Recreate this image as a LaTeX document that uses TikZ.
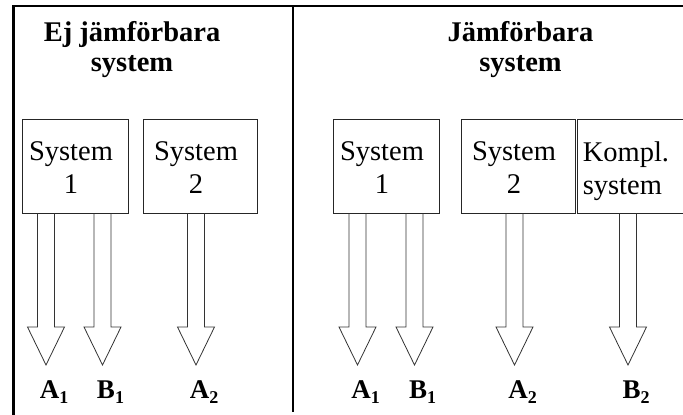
\documentclass[tikz,border=0pt]{standalone}
\usepackage{fontspec}
\setmainfont{Liberation Serif}
\usetikzlibrary{calc}

\tikzset{
  framerule/.style={line width=2.3pt, black},
  dividerrule/.style={line width=1.3pt, black},
  sysbox/.style={draw=black!85, line width=0.9pt, inner sep=0pt},
  boxtext/.style={inner sep=0pt, font=\fontsize{28.5}{33}\selectfont, align=center},
  titletext/.style={inner sep=0pt, font=\fontsize{28.5}{30}\selectfont\bfseries, align=center},
  outlab/.style={inner sep=0pt, anchor=base, font=\fontsize{27}{27}\selectfont\bfseries},
  hollow/.style={draw=black!80, line width=0.8pt, line join=miter},
}

% subscript index of an output label
\newcommand\lowidx[1]{\raisebox{-5pt}{\fontsize{18}{18}\selectfont #1}}

% hollow block arrow from #1 (top of shaft) to #2 (tip)
\newcommand\hollowarrow[2]{%
  \draw[hollow] let \p1=(#1), \p2=(#2) in
    (\x1-8.5pt,\y1) -- (\x1-8.5pt,\y2+38pt) -- (\x2-18.5pt,\y2+38pt) -- (\x2,\y2)
    -- (\x2+18.5pt,\y2+38pt) -- (\x1+8.5pt,\y2+38pt) -- (\x1+8.5pt,\y1);}

\begin{document}
\begin{tikzpicture}[x=1pt,y=-1pt]
\clip (0,0) rectangle (683,415);

% frame and divider
\draw[framerule] (12.3,6.3) -- (700,6.3);
\draw[framerule] (13.5,5.2) -- (13.5,420);
\draw[dividerrule] (293,6.3) -- (293,412);

% headings
\node[titletext] (tl) at (132,50) {Ej jämförbara\\system};
\node[titletext] (tr) at (520.5,50) {Jämförbara\\system};

% systems
\node[sysbox, minimum width=106pt, minimum height=94pt] (L1) at (75,166) {};
\node[sysbox, minimum width=114pt, minimum height=94pt] (L2) at (200,166) {};
\node[sysbox, minimum width=106pt, minimum height=94pt] (R1) at (386,166) {};
\node[sysbox, minimum width=114pt, minimum height=94pt] (R2) at (518,166) {};
\node[sysbox, minimum width=114pt, minimum height=94pt] (K) at (634,166) {};

\node[boxtext] (L1t) at ($(L1.center)+(-4,1.75)$) {System\\1};
\node[boxtext] (L2t) at ($(L2.center)+(-4,1.75)$) {System\\2};
\node[boxtext] (R1t) at ($(R1.center)+(-4,1.75)$) {System\\1};
\node[boxtext] (R2t) at ($(R2.center)+(-4,1.75)$) {System\\2};
\node[boxtext, align=left, anchor=west] (Kt) at ($(K.west)+(6,4.75)$) {Kompl.\\system};

% output labels
\node[outlab] (lA1) at (54,398) {A\lowidx{1}};
\node[outlab] (lB1) at (110.5,398) {B\lowidx{1}};
\node[outlab] (lA2) at (204,398) {A\lowidx{2}};
\node[outlab] (rA1) at (365.5,398) {A\lowidx{1}};
\node[outlab] (rB1) at (422.5,398) {B\lowidx{1}};
\node[outlab] (rA2) at (522.5,398) {A\lowidx{2}};
\node[outlab] (rB2) at (636,398) {B\lowidx{2}};

% arrow tips above the labels
\foreach \n in {lA1,lB1,lA2,rA1,rB1,rA2,rB2}
  \coordinate (t\n) at ($(\n.base)+(-8,-33)$);

% outputs
\hollowarrow{L1.south -| tlA1}{tlA1}
\hollowarrow{L1.south -| tlB1}{tlB1}
\hollowarrow{L2.south -| tlA2}{tlA2}
\hollowarrow{R1.south -| trA1}{trA1}
\hollowarrow{R1.south -| trB1}{trB1}
\hollowarrow{R2.south -| trA2}{trA2}
\hollowarrow{K.south -| trB2}{trB2}
\end{tikzpicture}
\end{document}
